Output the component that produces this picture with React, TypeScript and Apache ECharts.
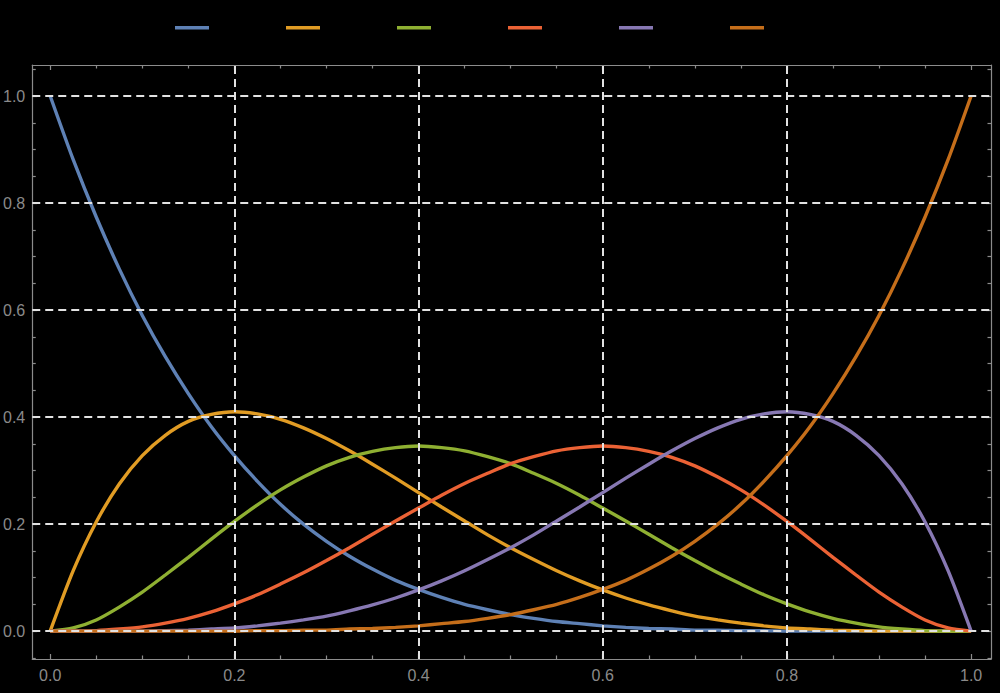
import React, { useEffect, useRef } from "react";
import * as echarts from "echarts";

const XS = [0, 0.025, 0.05, 0.075, 0.1, 0.125, 0.15, 0.175, 0.2, 0.225, 0.25, 0.275, 0.3, 0.325, 0.35, 0.375, 0.4, 0.425, 0.45, 0.475, 0.5, 0.525, 0.55, 0.575, 0.6, 0.625, 0.65, 0.675, 0.7, 0.725, 0.75, 0.775, 0.8, 0.825, 0.85, 0.875, 0.9, 0.925, 0.95, 0.975, 1];
const B0 = [1, 0.881, 0.774, 0.677, 0.59, 0.513, 0.444, 0.382, 0.328, 0.28, 0.237, 0.2, 0.168, 0.14, 0.116, 0.095, 0.078, 0.063, 0.05, 0.04, 0.031, 0.024, 0.018, 0.014, 0.01, 0.007, 0.005, 0.004, 0.002, 0.002, 0.001, 0.001, 0, 0, 0, 0, 0, 0, 0, 0, 0];
const B1 = [0, 0.113, 0.204, 0.275, 0.328, 0.366, 0.392, 0.405, 0.41, 0.406, 0.396, 0.38, 0.36, 0.337, 0.312, 0.286, 0.259, 0.232, 0.206, 0.18, 0.156, 0.134, 0.113, 0.094, 0.077, 0.062, 0.049, 0.038, 0.028, 0.021, 0.015, 0.01, 0.006, 0.004, 0.002, 0.001, 0, 0, 0, 0, 0];
const B2 = [0, 0.006, 0.021, 0.045, 0.073, 0.105, 0.138, 0.172, 0.205, 0.236, 0.264, 0.288, 0.309, 0.325, 0.336, 0.343, 0.346, 0.343, 0.337, 0.326, 0.313, 0.295, 0.276, 0.254, 0.23, 0.206, 0.181, 0.156, 0.132, 0.109, 0.088, 0.068, 0.051, 0.036, 0.024, 0.015, 0.008, 0.004, 0.001, 0, 0];
const B3 = [0, 0, 0.001, 0.004, 0.008, 0.015, 0.024, 0.036, 0.051, 0.068, 0.088, 0.109, 0.132, 0.156, 0.181, 0.206, 0.23, 0.254, 0.276, 0.295, 0.313, 0.326, 0.337, 0.343, 0.346, 0.343, 0.336, 0.325, 0.309, 0.288, 0.264, 0.236, 0.205, 0.172, 0.138, 0.105, 0.073, 0.045, 0.021, 0.006, 0];
const B4 = [0, 0, 0, 0, 0, 0.001, 0.002, 0.004, 0.006, 0.01, 0.015, 0.021, 0.028, 0.038, 0.049, 0.062, 0.077, 0.094, 0.113, 0.134, 0.156, 0.18, 0.206, 0.232, 0.259, 0.286, 0.312, 0.337, 0.36, 0.38, 0.396, 0.406, 0.41, 0.405, 0.392, 0.366, 0.328, 0.275, 0.204, 0.113, 0];
const B5 = [0, 0, 0, 0, 0, 0, 0, 0, 0, 0.001, 0.001, 0.002, 0.002, 0.004, 0.005, 0.007, 0.01, 0.014, 0.018, 0.024, 0.031, 0.04, 0.05, 0.063, 0.078, 0.095, 0.116, 0.14, 0.168, 0.2, 0.237, 0.28, 0.328, 0.382, 0.444, 0.513, 0.59, 0.677, 0.774, 0.881, 1];

const SERIES_NAMES = ["B0", "B1", "B2", "B3", "B4", "B5"];
const SERIES_VALUES = [B0, B1, B2, B3, B4, B5];
const COLORS = ["#5E81B5", "#E19C24", "#8FB032", "#EB6235", "#8778B3", "#C56E1A"];

const X_MAJOR = [0, 0.2, 0.4, 0.6, 0.8, 1];
const X_MINOR = [0.05, 0.1, 0.15, 0.25, 0.3, 0.35, 0.45, 0.5, 0.55, 0.65, 0.7, 0.75, 0.85, 0.9, 0.95];
const Y_MAJOR = [0, 0.2, 0.4, 0.6, 0.8, 1];
const Y_MINOR = [-0.05, 0.05, 0.1, 0.15, 0.25, 0.3, 0.35, 0.45, 0.5, 0.55, 0.65, 0.7, 0.75, 0.85, 0.9, 0.95, 1.05];
const X_GRID = [0.2, 0.4, 0.6, 0.8];
const Y_GRID = [0, 0.2, 0.4, 0.6, 0.8, 1];

const X_MIN = -0.0195;
const X_MAX = 1.0216;
const Y_MIN = -0.052;
const Y_MAX = 1.058;

const FRAME = "#8c8c8c";
const LABEL_FONT = "Liberation Sans, Arial, Helvetica, sans-serif";

function makeAxis(kind: "x" | "y", position: string, ticks: number[], len: number, labels: number[] | null, showLine: boolean, min: number, max: number) {
  return {
    type: "value",
    position,
    min,
    max,
    axisLine: { show: showLine, onZero: false, lineStyle: { color: FRAME, width: 1.2 } },
    axisTick: { show: true, inside: true, length: len, customValues: ticks, lineStyle: { color: FRAME, width: 1.2 } },
    axisLabel: labels
      ? {
          show: true,
          customValues: labels,
          color: "#8a8a8a",
          fontSize: 16,
          fontFamily: LABEL_FONT,
          margin: kind === "x" ? 8 : 7,
          formatter: (v: number) => v.toFixed(1),
        }
      : { show: false },
    splitLine: { show: false },
  };
}

export default function App() {
  const ref = useRef<HTMLDivElement>(null);
  useEffect(() => {
    if (!ref.current) return;
    const chart = echarts.init(ref.current, null, { renderer: "svg" });
    const lineSeries = SERIES_NAMES.map((name, i) => ({
      name,
      type: "line",
      xAxisIndex: 0,
      yAxisIndex: 0,
      data: XS.map((x, j) => [x, SERIES_VALUES[i][j]]),
      smooth: 0.25,
      showSymbol: false,
      symbol: "none",
      z: 3,
      lineStyle: { color: COLORS[i], width: 3.4 },
      itemStyle: { color: COLORS[i] },
    }));
    const gridSeries = {
      name: "grid",
      type: "line",
      xAxisIndex: 0,
      yAxisIndex: 0,
      data: [],
      z: 1,
      silent: true,
      markLine: {
        silent: true,
        symbol: "none",
        label: { show: false },
        lineStyle: { color: "#e2e2e2", type: [8, 5], width: 2 },
        data: [...X_GRID.map((v) => ({ xAxis: v })), ...Y_GRID.map((v) => ({ yAxis: v }))],
      },
    };
    chart.setOption({
      animation: false,
      backgroundColor: "#000000",
      legend: {
        show: true,
        data: SERIES_NAMES,
        left: 170,
        top: 21,
        icon: "rect",
        itemWidth: 34,
        itemHeight: 3.5,
        itemGap: 77,
        formatter: () => "",
        textStyle: { fontSize: 1 },
        selectedMode: false,
      },
      grid: { left: 30, right: 9, top: 65, bottom: 34, containLabel: false },
      xAxis: [
        makeAxis("x", "bottom", X_MAJOR, 5, X_MAJOR, true, X_MIN, X_MAX),
        makeAxis("x", "bottom", X_MINOR, 3.5, null, false, X_MIN, X_MAX),
        makeAxis("x", "top", X_MAJOR, 5, null, true, X_MIN, X_MAX),
        makeAxis("x", "top", X_MINOR, 3.5, null, false, X_MIN, X_MAX),
      ],
      yAxis: [
        makeAxis("y", "left", Y_MAJOR, 5, Y_MAJOR, true, Y_MIN, Y_MAX),
        makeAxis("y", "left", Y_MINOR, 3.5, null, false, Y_MIN, Y_MAX),
        makeAxis("y", "right", Y_MAJOR, 5, null, true, Y_MIN, Y_MAX),
        makeAxis("y", "right", Y_MINOR, 3.5, null, false, Y_MIN, Y_MAX),
      ],
      series: [gridSeries, ...lineSeries],
    });
    return () => chart.dispose();
  }, []);
  return (
    <div
      ref={ref}
      style={{ position: "fixed", left: 0, top: 0, width: 1000, height: 693, background: "#000" }}
    />
  );
}
